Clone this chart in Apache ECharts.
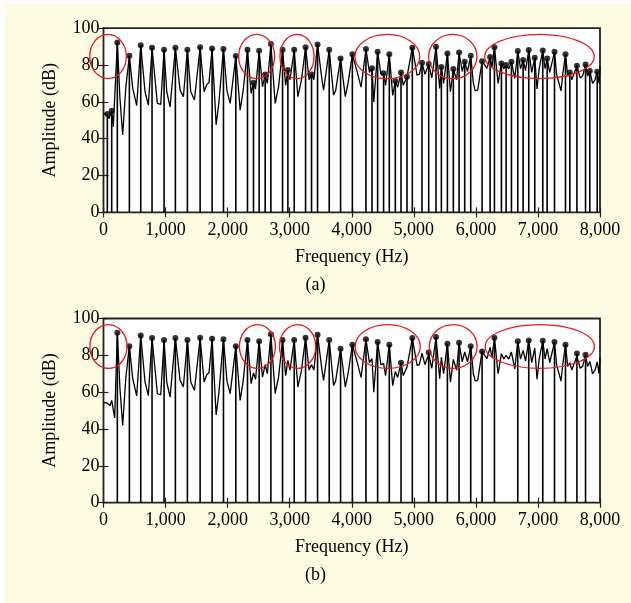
<!DOCTYPE html>
<html><head><meta charset="utf-8">
<script src="https://cdn.jsdelivr.net/npm/echarts@6/dist/echarts.min.js"></script>
<style>
html,body{margin:0;padding:0;background:#fff;}
#bg{position:absolute;left:5px;top:4px;width:626px;height:599px;background:#fdfbe1;}
#c{position:absolute;left:0;top:0;width:631px;height:603px;}
</style>
</head><body><div id="bg"></div><div id="c"></div>
<script>
// ---------- data (Hz, dB) ----------
const xTickValues = [0,1000,2000,3000,4000,5000,6000,7000,8000];
const yTickValues = [0,20,40,60,80,100];
const panelLabels = ['(a)','(b)'];

const lineA = [
[0,53.5],[40,53.5],[62,53],[90,51],[132,55.2],[158,46.5],[223,92.3],[265,62],[309,42],[360,68],[417,85],[471,67.3],[535,58],[600,90.8],
[669,65.5],[723,58.2],[782,89.4],[868,59.2],[922,58.6],[976,88.3],[1019,65.5],[1073,57.3],[1158,89.4],[1234,66.4],[1287,62.8],[1352,88.3],
[1406,65.5],[1465,61],[1557,89.6],[1621,65.5],[1664,69.5],[1700,70.5],[1750,89],[1815,47.6],[1858,59.2],[1933,88.7],[1990,66],[2041,59.2],
[2132,84.9],[2202,55.5],[2250,66],[2320,88.3],[2379,64.6],[2417,70.4],[2450,67],[2508,87.7],[2562,68.2],[2605,74.9],[2640,70],[2697,91.4],
[2766,59.2],[2820,68],[2885,88.3],[2935,69],[2971,77.3],[3005,72],[3073,88.3],[3132,62.8],[3190,72],[3256,89.6],[3313,72],[3352,74.9],
[3390,72],[3449,91.2],[3520,72],[3546,66.4],[3637,88.3],[3707,63.7],[3740,66],[3820,83.6],[3896,62.8],[3940,70],[4010,85.8],[4090,76],
[4150,68],[4229,88.7],[4285,76],[4326,78.2],[4355,60],[4417,87.2],[4470,75],[4513,75.5],[4545,69],[4605,85.8],[4660,63.5],[4702,71.3],
[4740,68],[4794,76],[4830,69],[4890,73.6],[4976,89.4],[5052,74.5],[5090,75],[5132,81.2],[5180,75],[5240,80.5],[5290,73],[5358,89.9],
[5417,67.3],[5444,79],[5480,70],[5541,86.3],[5590,65.5],[5637,77.8],[5690,72],[5729,86.8],[5780,76.5],[5820,81.8],[5865,76.5],[5917,85],
[5960,70],[5990,66],[6030,66.5],[6100,82.1],[6179,78.2],[6229,84.3],[6260,79],[6299,89.6],[6358,70],[6412,80.9],[6450,78],[6487,80],
[6530,78],[6573,81.8],[6627,72.7],[6675,87.6],[6720,78],[6761,82.7],[6800,77],[6852,88.1],[6900,76],[6949,84],[6985,67],[7020,78],
[7078,87.9],[7115,78],[7149,83.6],[7190,76],[7267,87.2],[7300,75],[7372,66],[7400,75],[7444,85.8],[7480,74],[7514,76],[7545,72],
[7590,76],[7628,79.6],[7680,73],[7720,74],[7767,80.3],[7800,74],[7836,76.7],[7880,70],[7920,72],[7955,76.4],[7985,70],[8000,79]
];
const lineBStart = [[0,54],[51,54.3],[105,52.7],[132,55.5],[180,46],[223,92.3]];

const stemAFreq = [62,132,223,417,600,782,976,1158,1352,1557,1750,1933,2132,2320,2417,2508,2605,2697,2885,2971,3073,3256,3352,3449,3637,3820,4010,4229,4326,4417,4513,4605,4702,4794,4890,4976,5132,5240,5358,5444,5541,5637,5729,5820,5917,6100,6229,6299,6412,6487,6573,6675,6761,6852,6949,7078,7149,7267,7444,7514,7628,7767,7836,7955];
const stemAVal  = [53.4,55.2,92.3,85,90.8,89.4,88.3,89.4,88.3,89.6,89,88.7,84.9,88.3,70.4,87.7,74.9,91.4,88.3,77.3,88.3,89.6,74.9,91.2,88.3,83.6,85.8,88.7,78.2,87.2,75.5,85.8,71.3,76,73.6,89.4,81.2,80.5,89.9,79,86.3,77.8,86.8,81.8,85,82.1,84.3,89.6,80.9,80,81.8,87.6,82.7,88.1,84,87.9,83.6,87.2,85.8,76,79.6,80.3,76.7,76.4];

const stemBFreq = [223,417,600,782,976,1158,1352,1557,1750,1933,2132,2320,2508,2697,2885,3073,3256,3449,3637,3820,4010,4229,4417,4605,4794,4976,5240,5358,5541,5729,5917,6100,6299,6675,6852,7078,7267,7444,7628,7767];
const stemBVal  = [92.3,85,90.8,89.4,88.3,89.4,88.3,89.6,89,88.7,84.9,88.3,87.7,91.4,88.3,88.3,89.6,91.2,88.3,83.6,85.8,88.7,87.2,85.8,76,89.4,81.5,89.9,86.3,86.8,85,82.1,89.6,87.6,88.1,87.9,87.2,85.8,81,80.3];

// ellipse annotations: [centre Hz, centre dB, radius Hz, radius dB]
const ellipsesA = [[73,84.6,295,12],[2468,84.6,290,12],[3118,84.6,275,12],[4573,84.6,523,12],[5628,84.6,390,12],[7025,84.6,882,12]];
const ellipsesB = [[80,84.8,300,11.9],[2480,84.8,290,11.9],[3128,84.8,292,11.9],[4580,84.8,525,11.9],[5635,84.8,385,11.9],[7030,84.8,880,11.9]];

// ---------- chart ----------
const lineB = lineBStart.concat(lineA.filter(p => p[0] > 223));
const font = 'Liberation Serif, Times New Roman, serif';
const fmt = v => v.toLocaleString('en-US');
const chart = echarts.init(document.getElementById('c'), null, {renderer:'canvas'});

const grids = [
  {left:103.5, top:28.2, width:496.5, height:184.2, show:true, backgroundColor:'#fff', borderColor:'#222', borderWidth:1.8},
  {left:103.5, top:318.5, width:496.5, height:184.2, show:true, backgroundColor:'#fff', borderColor:'#222', borderWidth:1.8}
];
const xAxes = [], yAxes = [];
[0,1].forEach(g => {
  xAxes.push({type:'value', gridIndex:g, min:0, max:8000, interval:1000, position:'bottom',
    name:'Frequency (Hz)', nameLocation:'middle', nameGap:36,
    nameTextStyle:{fontFamily:font, fontSize:18, color:'#000'},
    axisLine:{show:false}, splitLine:{show:false},
    axisTick:{show:true, inside:true, length:5, lineStyle:{color:'#222', width:1.2}},
    axisLabel:{fontFamily:font, fontSize:18, color:'#000', margin:9, formatter:fmt, customValues:xTickValues}});
  xAxes.push({type:'value', gridIndex:g, min:0, max:8000, interval:1000, position:'top',
    axisLine:{show:false}, splitLine:{show:false}, axisLabel:{show:false},
    axisTick:{show:true, inside:true, length:5, lineStyle:{color:'#222', width:1.2}}});
  yAxes.push({type:'value', gridIndex:g, min:0, max:100, interval:20, position:'left',
    name:'Amplitude (dB)', nameLocation:'middle', nameGap:44,
    nameTextStyle:{fontFamily:font, fontSize:18, color:'#000'},
    axisLine:{show:false}, splitLine:{show:false},
    axisTick:{show:true, inside:true, length:5, lineStyle:{color:'#222', width:1.2}},
    axisLabel:{fontFamily:font, fontSize:18, color:'#000', margin:4, customValues:yTickValues}});
  yAxes.push({type:'value', gridIndex:g, min:0, max:100, interval:20, position:'right',
    axisLine:{show:false}, splitLine:{show:false}, axisLabel:{show:false},
    axisTick:{show:true, inside:true, length:5, lineStyle:{color:'#222', width:1.2}}});
});

function stemRender(params, api){
  const f = api.value(0), v = api.value(1);
  const p0 = api.coord([f,0]), p1 = api.coord([f,v]);
  return {type:'line', shape:{x1:p0[0], y1:p0[1], x2:p1[0], y2:p1[1]},
          style:{stroke:'#000', lineWidth:1.6}};
}
function ellipseRender(params, api){
  const c = api.coord([api.value(0), api.value(1)]);
  const s = api.size([api.value(2), api.value(3)]);
  return {type:'ellipse', shape:{cx:c[0], cy:c[1], rx:s[0], ry:s[1]},
          style:{fill:null, stroke:'#e8191b', lineWidth:1.3}};
}

const panels = [
  {line:lineA, sf:stemAFreq, sv:stemAVal, el:ellipsesA},
  {line:lineB, sf:stemBFreq, sv:stemBVal, el:ellipsesB}
];
const series = [];
panels.forEach((p, g) => {
  const stems = p.sf.map((f,i) => [f, p.sv[i]]);
  series.push({type:'custom', xAxisIndex:g*2, yAxisIndex:g*2, renderItem:stemRender, data:stems, clip:true, z:2});
  series.push({type:'line', xAxisIndex:g*2, yAxisIndex:g*2, data:p.line, showSymbol:false, symbol:'none',
    lineStyle:{color:'#000', width:1.3}, z:3});
  series.push({type:'scatter', xAxisIndex:g*2, yAxisIndex:g*2, data:stems, symbol:'circle', symbolSize:6,
    itemStyle:{color:'#000'}, z:4});
  series.push({type:'custom', xAxisIndex:g*2, yAxisIndex:g*2, renderItem:ellipseRender, data:p.el, clip:false, z:5});
});

chart.setOption({
  animation:false,
  grid:grids, xAxis:xAxes, yAxis:yAxes, series:series,
  graphic:[
    {type:'text', left:'center', top:276, style:{text:panelLabels[0], font:'18px '+font, fill:'#000'}},
    {type:'text', left:'center', top:566, style:{text:panelLabels[1], font:'18px '+font, fill:'#000'}}
  ]
});
</script>
</body></html>
